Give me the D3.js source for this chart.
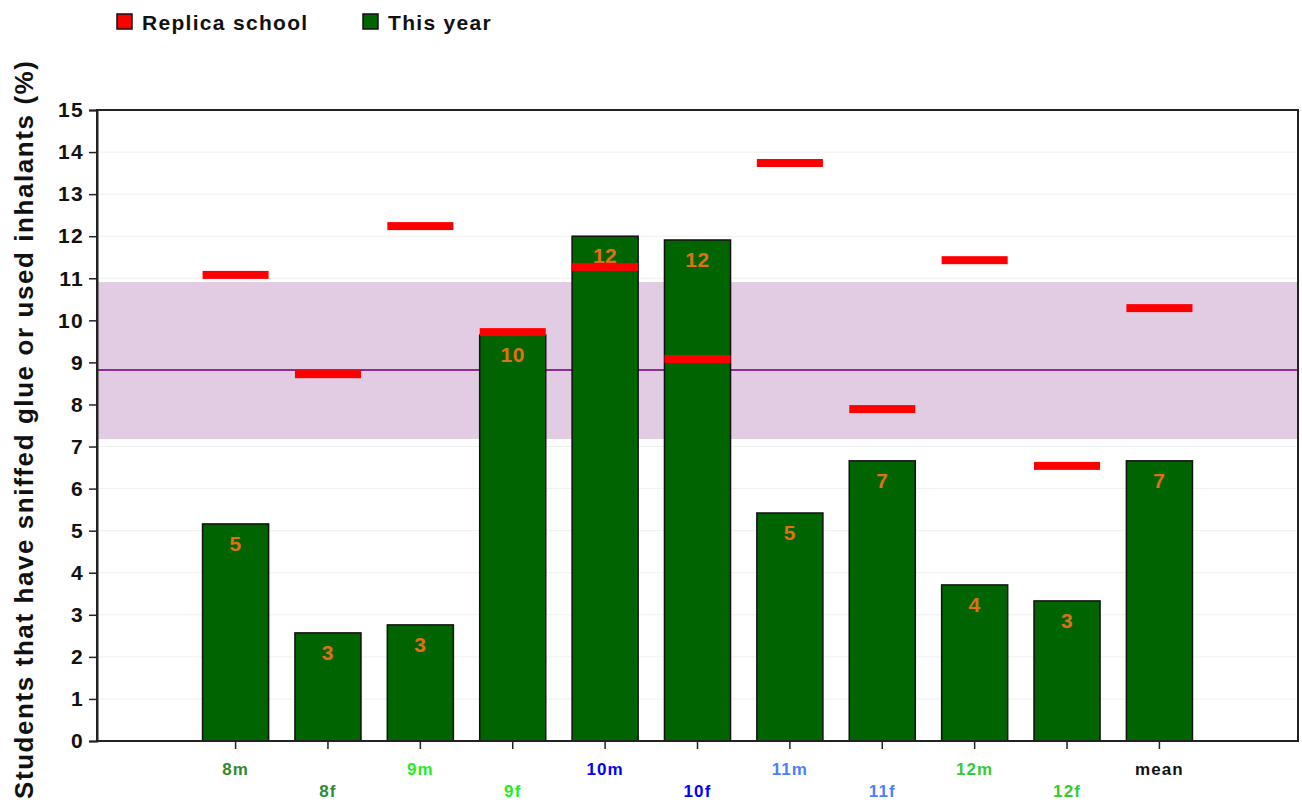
<!DOCTYPE html>
<html lang="en">
<head>
    <meta charset="UTF-8">
    <script src="https://d3js.org/d3.v7.min.js"></script>
    <style>
        body {
            margin: 0;
            background: white;
            font-family: "Liberation Sans", Arial, sans-serif;
        }
        svg text {
            font-weight: bold;
        }
    </style>
</head>
<body>
    <svg id="chart" width="1302" height="803"></svg>
    <script>
        // data
        const groups = ["8m", "8f", "9m", "9f", "10m", "10f", "11m", "11f", "12m", "12f", "mean"];
        const thisYear = [5.16, 2.57, 2.76, 9.65, 12.0, 11.91, 5.42, 6.66, 3.71, 3.33, 6.66];
        const replica = [11.08, 8.72, 12.24, 9.72, 11.27, 9.08, 13.74, 7.89, 11.43, 6.54, 10.29];
        const labelColors = ["#2e8b2e", "#2e8b2e", "#22ee22", "#22ee22", "#0000ff", "#0000ff",
            "#4a7fff", "#4a7fff", "#33cc33", "#33cc33", "#111111"];
        const yTicks = d3.range(0, 16);
        const bandLow = 7.18, bandHigh = 10.91, bandMid = 8.82;

        const margin = { top: 110, right: 4, bottom: 62, left: 97 };
        const width = 1302, height = 803;
        const font = "'Liberation Sans', Arial, sans-serif";

        const svg = d3.select("#chart");

        const x = d3.scaleBand()
            .domain(["", ...groups, " "])
            .range([margin.left, width - margin.right])
            .paddingInner(0.285)
            .paddingOuter(0.1425);

        const y = d3.scaleLinear()
            .domain([0, 15])
            .range([height - margin.bottom, margin.top]);

        // grid lines
        svg.append("g")
            .selectAll("line")
            .data(yTicks.slice(1))
            .enter().append("line")
            .attr("x1", margin.left)
            .attr("x2", width - margin.right)
            .attr("y1", d => y(d))
            .attr("y2", d => y(d))
            .attr("stroke", "#f0f0f0")
            .attr("stroke-width", 1);

        // norm band
        svg.append("rect")
            .attr("x", margin.left)
            .attr("width", width - margin.right - margin.left)
            .attr("y", y(bandHigh))
            .attr("height", y(bandLow) - y(bandHigh))
            .attr("fill", "#e2cce3");

        svg.append("line")
            .attr("x1", margin.left)
            .attr("x2", width - margin.right)
            .attr("y1", y(bandMid))
            .attr("y2", y(bandMid))
            .attr("stroke", "#8e2b94")
            .attr("stroke-width", 2);

        // bars
        svg.append("g")
            .selectAll("rect")
            .data(groups)
            .enter().append("rect")
            .attr("x", d => x(d))
            .attr("width", x.bandwidth())
            .attr("y", (d, i) => y(thisYear[i]))
            .attr("height", (d, i) => y(0) - y(thisYear[i]))
            .attr("fill", "#006400")
            .attr("stroke", "#111")
            .attr("stroke-width", 1.5);

        // value labels
        svg.append("g")
            .selectAll("text")
            .data(groups)
            .enter().append("text")
            .attr("x", d => x(d) + x.bandwidth() / 2)
            .attr("y", (d, i) => y(thisYear[i]) + 27)
            .attr("text-anchor", "middle")
            .attr("fill", "#e07010")
            .style("font-size", "21px")
            .style("letter-spacing", "0.5px")
            .text((d, i) => Math.round(thisYear[i]));

        // replica school markers
        svg.append("g")
            .selectAll("rect")
            .data(groups)
            .enter().append("rect")
            .attr("x", d => x(d))
            .attr("width", x.bandwidth())
            .attr("y", (d, i) => y(replica[i]) - 4)
            .attr("height", 8)
            .attr("fill", "#ff0000");

        // plot frame
        svg.append("rect")
            .attr("x", margin.left)
            .attr("y", margin.top)
            .attr("width", width - margin.right - margin.left)
            .attr("height", height - margin.bottom - margin.top)
            .attr("fill", "none")
            .attr("stroke", "#222")
            .attr("stroke-width", 2);

        // y axis
        const yAxis = svg.append("g")
            .attr("transform", `translate(${margin.left},0)`)
            .call(d3.axisLeft(y).tickValues(yTicks).tickSize(8).tickPadding(5));
        yAxis.select(".domain").attr("stroke", "#222").attr("stroke-width", 2);
        yAxis.selectAll(".tick line").attr("stroke", "#222").attr("stroke-width", 1.5);
        yAxis.selectAll("text")
            .style("font-size", "21px")
            .style("font-family", font)
            .style("letter-spacing", "1.3px")
            .attr("fill", "#111");

        // x axis
        const xAxis = svg.append("g")
            .attr("transform", `translate(0,${height - margin.bottom})`)
            .call(d3.axisBottom(x).tickValues(groups).tickSize(8).tickPadding(4));
        xAxis.select(".domain").remove();
        xAxis.selectAll(".tick line").attr("stroke", "#222").attr("stroke-width", 1.5);
        xAxis.selectAll("text")
            .style("font-size", "17px")
            .style("font-family", font)
            .style("letter-spacing", "1.1px")
            .attr("fill", (d, i) => labelColors[i])
            .attr("y", (d, i) => i % 2 === 0 ? 34 : 56)
            .attr("dy", "0");

        // y title
        svg.append("text")
            .attr("transform", `translate(33,430) rotate(-90)`)
            .attr("text-anchor", "middle")
            .attr("fill", "#111")
            .attr("textLength", 738)
            .attr("lengthAdjust", "spacing")
            .style("font-size", "26px")
            .text("Students that have sniffed glue or used inhalants (%)");

        // legend
        const legendItems = [
            { name: "Replica school", color: "#ff0000", x: 117 },
            { name: "This year", color: "#006400", x: 363 }
        ];
        const legend = svg.append("g");
        legendItems.forEach(item => {
            legend.append("rect")
                .attr("x", item.x)
                .attr("y", 14)
                .attr("width", 15)
                .attr("height", 15)
                .attr("fill", item.color)
                .attr("stroke", "#111")
                .attr("stroke-width", 1.5);
            legend.append("text")
                .attr("x", item.x + 25)
                .attr("y", 30)
                .attr("fill", "#111")
                .style("font-size", "21px")
                .style("letter-spacing", "1.3px")
                .text(item.name);
        });
    </script>
</body>
</html>
